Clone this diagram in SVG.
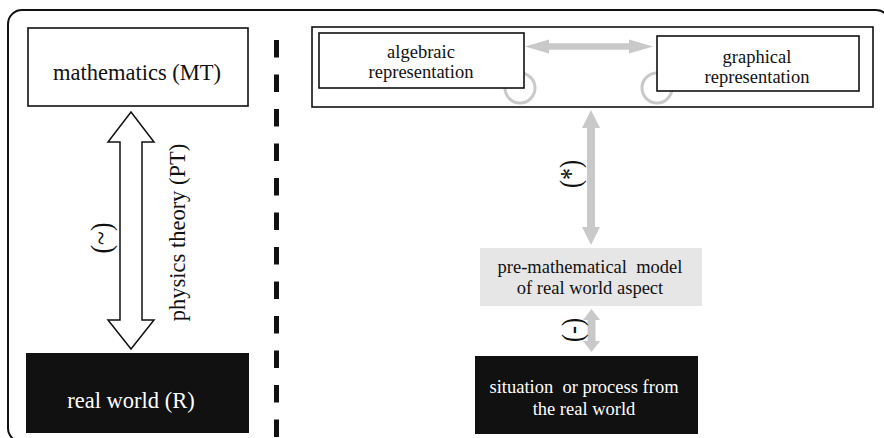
<svg xmlns="http://www.w3.org/2000/svg" width="884" height="438" viewBox="0 0 884 438">
<style>
text{font-family:"Liberation Serif",Tinos,"Times New Roman","DejaVu Serif",serif;fill:#111}
.big{font-size:22.5px}
.sm{font-size:18.5px}
.lbl{font-size:30px}
.w{fill:#fff}
.box{fill:#fff;stroke:#111;stroke-width:1.6}
.dark{fill:#111;stroke:none}
.garrow{fill:#c9c9c9;stroke:none}
.ring{fill:none;stroke:#c9c9c9;stroke-width:3}
</style>
<rect width="884" height="438" fill="#fff"/>
<rect id="frame" x="8" y="10" width="882" height="432" rx="14" fill="none" stroke="#111" stroke-width="2"/>
<line id="divider" x1="276.5" y1="40" x2="276.5" y2="438" stroke="#111" stroke-width="5" stroke-dasharray="17.5 17"/>
<g id="container"><rect x="312" y="27" width="561" height="80" class="box" stroke-width="2"/></g>
<g id="connectors">
<circle class="ring" cx="520" cy="88" r="15"/>
<circle class="ring" cx="657" cy="88" r="15"/>
<polygon fill="#fff" stroke="#111" stroke-width="1.5" points="131,112 154,142 142,142 142,320 154,320 131,349 108,320 120,320 120,142 108,142"/>
<polygon class="garrow" points="525,46.5 549,39.5 549,43.2 629,43.2 629,39.5 653,46.5 629,53.5 629,49.8 549,49.8 549,53.5"/>
<polygon class="garrow" points="591,110 600,128 595,128 595,227 600,227 591,245 582,227 587,227 587,128 582,128"/>
<polygon class="garrow" points="591.5,309 600,320 595.5,320 595.5,341 600,341 591.5,352 583,341 587.5,341 587.5,320 583,320"/>
<text class="big" text-anchor="middle" transform="translate(185,232.5) rotate(-90)">physics theory (PT)</text>
<text class="lbl" text-anchor="middle" transform="translate(110.5,238) rotate(-90) scale(0.85,1)">(~)</text>
<text class="lbl" text-anchor="middle" transform="translate(580,174) rotate(-90) scale(0.8,1)">(*)</text>
<text class="lbl" text-anchor="middle" transform="translate(582,330) rotate(-90) scale(0.8,1)">(-)</text>
</g>
<g id="mathematics">
<rect x="28" y="28" width="220" height="78" class="box"/>
<text class="big" x="137" y="80" text-anchor="middle">mathematics (MT)</text>
</g>
<g id="realworld">
<rect x="26" y="353" width="223" height="80" class="dark"/>
<text class="big w" x="131" y="408" text-anchor="middle">real world (R)</text>
</g>
<g id="algebraic">
<rect x="319" y="33" width="205" height="55" class="box" stroke-width="2"/>
<text class="sm" x="421" y="58" text-anchor="middle">algebraic</text>
<text class="sm" x="421" y="78" text-anchor="middle">representation</text>
</g>
<g id="graphical">
<rect x="657" y="36" width="202" height="55" class="box" stroke-width="2"/>
<text class="sm" x="757" y="63" text-anchor="middle">graphical</text>
<text class="sm" x="757" y="83" text-anchor="middle">representation</text>
</g>
<g id="premodel">
<rect x="480" y="248" width="222" height="58" fill="#e6e6e6"/>
<text class="sm" x="590" y="273" text-anchor="middle" xml:space="preserve">pre-mathematical  model</text>
<text class="sm" x="590" y="294" text-anchor="middle">of real world aspect</text>
</g>
<g id="situation">
<rect x="475" y="356" width="223" height="78" class="dark"/>
<text class="sm w" x="584" y="393" text-anchor="middle" xml:space="preserve">situation  or process from</text>
<text class="sm w" x="584" y="415" text-anchor="middle">the real world</text>
</g>
</svg>
